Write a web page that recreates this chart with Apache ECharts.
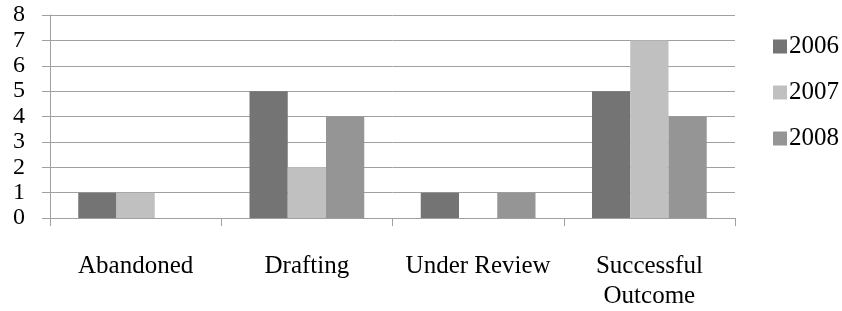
<!DOCTYPE html>
<html>
<head>
<meta charset="utf-8">
<script src="https://cdn.jsdelivr.net/npm/echarts@6/dist/echarts.min.js"></script>
<style>
  html, body { margin: 0; padding: 0; background: #fff; }
  #main { width: 842px; height: 311px; }
</style>
</head>
<body>
<div id="main"></div>
<script>
var categories = ['Abandoned', 'Drafting', 'Under Review', 'Successful\nOutcome'];
var years = ['2006', '2007', '2008'];
var values2006 = [1, 5, 1, 5];
var values2007 = [1, 2, 0, 7];
var values2008 = [0, 4, 1, 4];
var yTicks = [0, 1, 2, 3, 4, 5, 6, 7, 8];

var fontFamily = '"Liberation Serif", "Times New Roman", serif';
var lineColor = '#a0a0a0';

var myChart = echarts.init(document.getElementById('main'));

var option = {
    animation: false,
    color: ['#747474', '#c0c0c0', '#959595'],
    grid: {
        left: 50,
        right: 107,
        top: 15,
        bottom: 89
    },
    legend: {
        orient: 'vertical',
        left: 768,
        top: 29,
        icon: 'rect',
        itemWidth: 14,
        itemHeight: 14,
        itemGap: 21,
        data: years,
        textStyle: {
            fontFamily: fontFamily,
            fontSize: 25,
            color: '#000',
            padding: [0, 0, 0, -3]
        }
    },
    xAxis: {
        type: 'category',
        data: categories,
        axisLine: { lineStyle: { color: lineColor, width: 1 } },
        axisTick: { show: true, length: 8, lineStyle: { color: lineColor } },
        axisLabel: {
            interval: 0,
            margin: 33,
            fontFamily: fontFamily,
            fontSize: 25,
            lineHeight: 30,
            color: '#000'
        }
    },
    yAxis: {
        type: 'value',
        min: 0,
        max: yTicks[yTicks.length - 1],
        interval: 1,
        axisLine: { show: true, lineStyle: { color: lineColor, width: 1 } },
        axisTick: { show: true, length: 8, lineStyle: { color: lineColor } },
        splitLine: { lineStyle: { color: lineColor, width: 1 } },
        axisLabel: {
            margin: 25,
            fontFamily: fontFamily,
            fontSize: 24,
            color: '#000'
        }
    },
    series: [
        { name: years[0], type: 'bar', barGap: 0, barCategoryGap: '33%', data: values2006 },
        { name: years[1], type: 'bar', barGap: 0, barCategoryGap: '33%', data: values2007 },
        { name: years[2], type: 'bar', barGap: 0, barCategoryGap: '33%', data: values2008 }
    ]
};

myChart.setOption(option);
</script>
</body>
</html>
